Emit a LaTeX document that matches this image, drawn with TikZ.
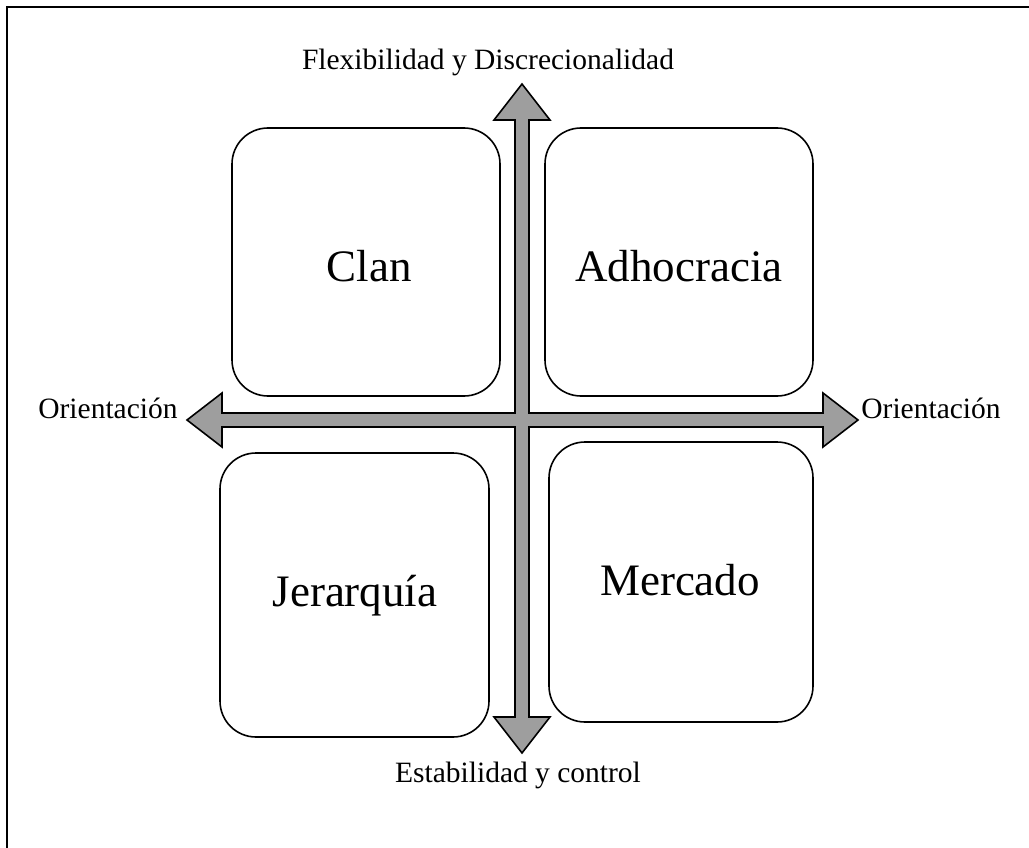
\documentclass[tikz,border=0pt]{standalone}
\usepackage{fontspec}
\setmainfont{Liberation Serif}

\tikzset{
  quad/.style={draw,line width=1.6pt,rounded corners=36pt},
  big/.style={font=\fontsize{45}{50}\selectfont},
  axis/.style={font=\fontsize{29.5}{33}\selectfont}
}

\begin{document}
\begin{tikzpicture}[x=1pt,y=-1pt]
  \useasboundingbox (0,0) rectangle (1029,848);
  % frame, only top and left are visible
  \draw[line width=2.5pt] (1029,7) -- (7,7) -- (7,848);

  % the four boxes
  \draw[quad] (232,128) rectangle (500,396);
  \draw[quad] (545,128) rectangle (813,396);
  \draw[quad] (220,453) rectangle (489,737);
  \draw[quad] (549,442) rectangle (813,722);

  \node[big] (clan) at (369,266) {Clan};
  \node[big] (adho) at (679,266) {Adhocracia};
  \node[big] (jera) at (355,596) {Jerarquía};
  \node[big] (merc) at (680,580) {Mercado};

  % cross with four heads
  \filldraw[fill=black!38,line width=1.6pt,line join=miter]
    (515,120) -- (494,120) -- (522,84) -- (550,120) -- (529,120)
    -- (529,413) -- (823,413) -- (823,393) -- (858,420) -- (823,447) -- (823,427)
    -- (529,427) -- (529,717) -- (550,717) -- (522,753) -- (494,717) -- (515,717)
    -- (515,427) -- (222,427) -- (222,447) -- (187,420) -- (222,393) -- (222,413)
    -- (515,413) -- cycle;

  \node[axis] (top) at (488,62) {Flexibilidad y Discrecionalidad};
  \node[axis] (bot) at (518,775) {Estabilidad y control};
  \node[axis] (lft) at (108,408) {Orientación};
  \node[axis] (rgt) at (931,408) {Orientación};
\end{tikzpicture}
\end{document}
